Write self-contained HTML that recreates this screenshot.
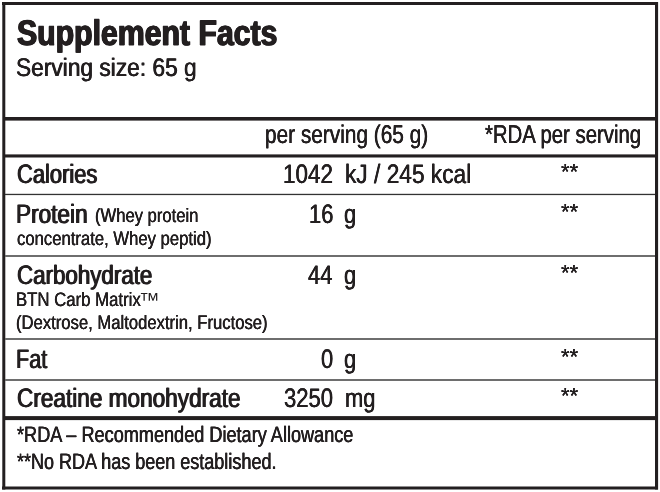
<!DOCTYPE html>
<html lang="en"><head><meta charset="utf-8"><title>Supplement Facts</title>
<style>
html,body{margin:0;padding:0;background:#fff;}
body{width:660px;height:492px;overflow:hidden;position:relative;}
#label{position:absolute;left:0;top:0;width:660px;height:492px;overflow:hidden;background:#fff;will-change:transform;}
#label svg{position:absolute;left:0;top:0;display:block;}
.t{position:absolute;margin:0;padding:0;line-height:0;white-space:nowrap;transform-origin:0 0;font-family:"Liberation Sans", sans-serif;color:#231f20;font-kerning:normal;text-rendering:geometricPrecision;}
.title{font-size:35.6px;font-weight:bold;text-shadow:0.75px 0 0 #231f20,-0.75px 0 0 #231f20;-webkit-text-stroke:0.95px #231f20;}
.serv{font-size:25.3px;font-weight:normal;text-shadow:0.4px 0 0 #231f20,-0.4px 0 0 #231f20;}
.hdr{font-size:25.7px;font-weight:normal;text-shadow:0.25px 0 0 #231f20,-0.25px 0 0 #231f20;}
.row{font-size:26.7px;font-weight:normal;text-shadow:0.7px 0 0 #231f20,-0.7px 0 0 #231f20;}
.val{font-size:26.7px;font-weight:normal;text-shadow:0.3px 0 0 #231f20,-0.3px 0 0 #231f20;}
.star{font-size:21.7px;font-weight:normal;text-shadow:0.1px 0 0 #231f20,-0.1px 0 0 #231f20;}
.small{font-size:19.5px;font-weight:normal;text-shadow:0.22px 0 0 #231f20,-0.22px 0 0 #231f20;}
.tm{font-size:20.5px;font-weight:normal;}
.foot{font-size:22.3px;font-weight:normal;text-shadow:0.32px 0 0 #231f20,-0.32px 0 0 #231f20;}
</style></head><body>
<div id="label">
<svg width="660" height="492" viewBox="0 0 660 492">
<rect x="2" y="2" width="656" height="3" fill="#231f20"/>
<rect x="2" y="486.5" width="656" height="3" fill="#231f20"/>
<rect x="2.3" y="2" width="3" height="487.5" fill="#231f20"/>
<rect x="655" y="2" width="3.1" height="487.5" fill="#231f20"/>
<rect x="5" y="117" width="650" height="3.6" fill="#231f20"/>
<rect x="5" y="154.4" width="650" height="3.1" fill="#231f20"/>
<rect x="5" y="193.8" width="650" height="1.3" fill="#333"/>
<rect x="5" y="255" width="650" height="2" fill="#6e6e6e"/>
<rect x="5" y="338" width="650" height="2" fill="#6e6e6e"/>
<rect x="5" y="379" width="650" height="2" fill="#6e6e6e"/>
<rect x="5" y="416.1" width="650" height="4" fill="#231f20"/>
</svg>
<div class="t title" style="left:17.19px;top:33px;transform:scaleX(0.8499)">Supplement Facts</div>
<div class="t serv" style="left:16.46px;top:68px;transform:scaleX(0.8983)">Serving size: 65 g</div>
<div class="t hdr" style="left:264.89px;top:135px;transform:scaleX(0.8105)">per serving (65 g)</div>
<div class="t hdr" style="left:485.20px;top:135px;transform:scaleX(0.7924)">*RDA per serving</div>
<div class="t row" style="left:16.75px;top:174px;transform:scaleX(0.8209)">Calories</div>
<div class="t val" style="left:283.37px;top:174px;transform:scaleX(0.8401)">1042</div>
<div class="t val" style="left:344.70px;top:174px;transform:scaleX(0.8509)">kJ / 245 kcal</div>
<div class="t star" style="left:561.10px;top:172px;transform:scaleX(1.0198)">**</div>
<div class="t row" style="left:15.90px;top:214px;transform:scaleX(0.8470)">Protein</div>
<div class="t small" style="left:94.84px;top:216px;transform:scaleX(0.8518)">(Whey protein</div>
<div class="t small" style="left:17.19px;top:239px;transform:scaleX(0.8547)">concentrate, Whey peptid)</div>
<div class="t val" style="left:308.90px;top:214px;transform:scaleX(0.8200)">16</div>
<div class="t val" style="left:343.63px;top:214px;transform:scaleX(0.8200)">g</div>
<div class="t star" style="left:561.10px;top:212px;transform:scaleX(1.0198)">**</div>
<div class="t row" style="left:16.75px;top:275px;transform:scaleX(0.8372)">Carbohydrate</div>
<div class="t small" style="left:16.33px;top:300px;transform:scaleX(0.8593)">BTN Carb Matrix</div>
<div class="t tm" style="left:139.29px;top:301px;transform:scaleX(1.0056)">™</div>
<div class="t small" style="left:16.33px;top:323px;transform:scaleX(0.8536)">(Dextrose, Maltodextrin, Fructose)</div>
<div class="t val" style="left:308.08px;top:275px;transform:scaleX(0.8200)">44</div>
<div class="t val" style="left:343.63px;top:275px;transform:scaleX(0.8200)">g</div>
<div class="t star" style="left:561.10px;top:273px;transform:scaleX(1.0198)">**</div>
<div class="t row" style="left:15.95px;top:359px;transform:scaleX(0.8094)">Fat</div>
<div class="t val" style="left:321.07px;top:359px;transform:scaleX(0.8200)">0</div>
<div class="t val" style="left:343.63px;top:359px;transform:scaleX(0.8200)">g</div>
<div class="t star" style="left:561.10px;top:357px;transform:scaleX(1.0198)">**</div>
<div class="t row" style="left:16.75px;top:398px;transform:scaleX(0.8467)">Creatine monohydrate</div>
<div class="t val" style="left:284.22px;top:398px;transform:scaleX(0.8257)">3250</div>
<div class="t val" style="left:344.73px;top:398px;transform:scaleX(0.8200)">mg</div>
<div class="t star" style="left:561.10px;top:396px;transform:scaleX(1.0198)">**</div>
<div class="t foot" style="left:17.26px;top:435px;transform:scaleX(0.8127)">*RDA – Recommended Dietary Allowance</div>
<div class="t foot" style="left:17.26px;top:462px;transform:scaleX(0.8082)">**No RDA has been established.</div>
</div>
</body></html>
